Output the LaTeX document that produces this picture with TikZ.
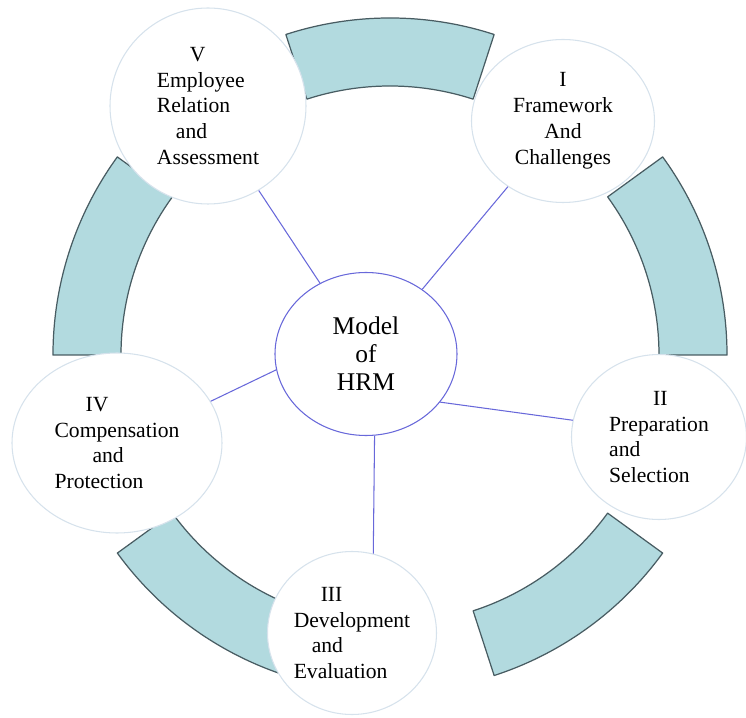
\documentclass[tikz,border=0pt]{standalone}
\usepackage{fontspec}
\setmainfont{Liberation Serif}
\usetikzlibrary{shapes.geometric}
\definecolor{bandfill}{RGB}{178,218,223}
\definecolor{bandedge}{RGB}{72,92,98}
\definecolor{stageedge}{RGB}{214,226,236}
\definecolor{spokeblue}{RGB}{104,104,218}
\newcommand{\ringband}[1]{
\filldraw[band] (#1-18:53.8mm) arc[start angle=#1-18, end angle=#1+18, radius=53.8mm]
  -- (#1+18:67.4mm) arc[start angle=#1+18, end angle=#1-18, radius=67.4mm] -- cycle;
}
\tikzset{
  band/.style={fill=bandfill, draw=bandedge, line width=0.7pt, line join=round},
  stage/.style={ellipse, draw=stageedge, fill=white, line width=0.6pt, inner sep=0pt,
    align=left, font=\fontsize{12.3}{14.7}\selectfont},
  hubnode/.style={ellipse, draw=spokeblue, fill=white, line width=0.6pt, inner sep=0pt,
    align=center, font=\fontsize{14.5}{15.9}\selectfont},
  spoke/.style={draw=spokeblue, line width=0.6pt}
}

\begin{document}
\begin{tikzpicture}[x=0.2mm,y=0.2mm]
    \useasboundingbox (-390,-362) rectangle (356,355);
    % ring pieces between the stages
    \ringband{90}
    \ringband{18}
    \ringband{-54}
    \ringband{-126}
    \ringband{162}
    %
    \node[stage, align=center, minimum width=36.6mm, minimum height=32.6mm] (framework) at (173,234)
      {I\\Framework\\And\\Challenges};
    \node[stage, minimum width=35mm, minimum height=33mm] (preparation) at (269,-82)
      {\hspace{8.8mm}II\\Preparation\\and\\Selection};
    \node[stage, minimum width=33.8mm, minimum height=32.6mm] (development) at (-38,-278)
      {\hspace{5.4mm}III\\Development\\\hspace{3.6mm}and\\Evaluation};
    \node[stage, minimum width=42mm, minimum height=36mm] (compensation) at (-273,-88)
      {\hspace{6.2mm}IV\\Compensation\\\hspace{7.6mm}and\\Protection};
    \node[stage, minimum width=39.2mm, minimum height=39.2mm] (relation) at (-182,249)
      {\hspace{6.6mm}V\\Employee\\Relation\\\hspace{3.8mm}and\\Assessment};
    %
    \node[hubnode, minimum width=36.4mm, minimum height=32.6mm] (hrm) at (-24,1)
      {Model\\of\\HRM};
    % spokes
    \draw[spoke] (hrm.123) -- (relation.-59);
    \draw[spoke] (hrm.49) -- (framework.230);
    \draw[spoke] (hrm.-33) -- (preparation.169);
    \draw[spoke] (hrm.-84) -- (development.75);
    \draw[spoke] (hrm.190) -- (compensation.24);
\end{tikzpicture}
\end{document}
